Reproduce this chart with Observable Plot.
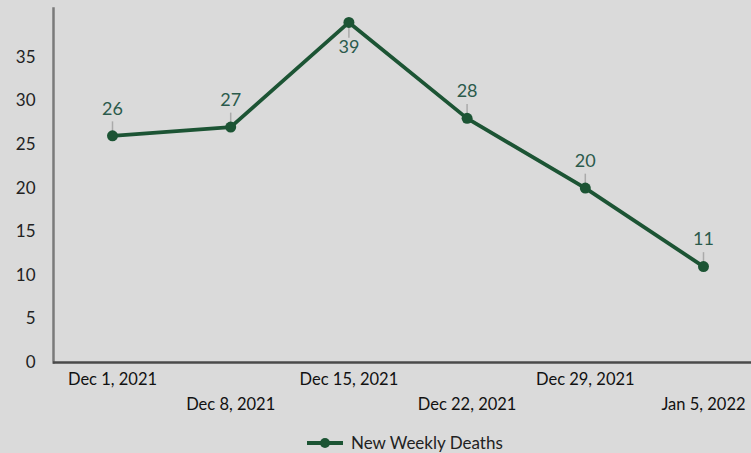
<!DOCTYPE html>
<html>
<head>
<meta charset="utf-8">
<script src="https://cdn.jsdelivr.net/npm/d3@7"></script>
<script src="https://cdn.jsdelivr.net/npm/@observablehq/plot@0.6"></script>
<style>
  html, body { margin: 0; padding: 0; background: #dadada; }
  body { width: 751px; height: 453px; overflow: hidden; font-family: Lato, "Open Sans", sans-serif; }
  #legend { display: flex; align-items: center; height: 33px; padding-top: 6px; padding-left: 306px; font-size: 17px; color: #222; }
  #legend svg { margin-right: 7px; }
</style>
</head>
<body>
<div id="chart"></div>
<div id="legend"></div>
<script>
const weeks = ["Dec 1, 2021", "Dec 8, 2021", "Dec 15, 2021", "Dec 22, 2021", "Dec 29, 2021", "Jan 5, 2022"];
const deaths = [26, 27, 39, 28, 20, 11];
const yTicks = [0, 5, 10, 15, 20, 25, 30, 35];
const seriesName = "New Weekly Deaths";
const lineColor = "#1c5434";

const data = weeks.map((w, i) => ({week: w, value: deaths[i], below: deaths[i] === d3.max(deaths)}));
const above = data.filter(d => !d.below);
const below = data.filter(d => d.below);

const chart = Plot.plot({
  width: 751,
  height: 420,
  marginTop: 8,
  marginBottom: 58,
  marginLeft: 53,
  marginRight: 0,
  style: {background: "#dadada", fontFamily: "Lato, 'Open Sans', sans-serif", fontSize: "16px", color: "#222"},
  x: {type: "point", domain: weeks, range: [112, 703], padding: 0, round: false},
  y: {domain: [0, 40.6], ticks: yTicks},
  marks: [
    Plot.axisY({ticks: yTicks, tickSize: 0, tickPadding: 18, fontSize: 17, label: null, fill: "#222"}),
    Plot.axisX(weeks.filter((d, i) => i % 2 === 0), {tickSize: 0, tickPadding: 11, fontSize: 16.5, label: null, fill: "#111"}),
    Plot.axisX(weeks.filter((d, i) => i % 2 === 1), {tickSize: 0, tickPadding: 36, fontSize: 16.5, label: null, fill: "#111"}),
    Plot.frame({anchor: "left", stroke: "#7a7a7a", strokeWidth: 2.5}),
    Plot.ruleY([0], {stroke: "#4a4a4a", strokeWidth: 2.5}),
    Plot.ruleX(above, {x: "week", y1: d => d.value + 0.4, y2: d => d.value + 1.6, stroke: "#aaa", strokeWidth: 1.5}),
    Plot.ruleX(below, {x: "week", y1: d => d.value - 0.4, y2: d => d.value - 1.8, stroke: "#aaa", strokeWidth: 1.5}),
    Plot.line(data, {x: "week", y: "value", stroke: lineColor, strokeWidth: 3.8}),
    Plot.dot(data, {x: "week", y: "value", fill: lineColor, r: 5.5}),
    Plot.text(above, {x: "week", y: "value", text: d => String(d.value), dy: -27, fontSize: 18, fill: "#2b5a4c"}),
    Plot.text(below, {x: "week", y: "value", text: d => String(d.value), dy: 25, fontSize: 18, fill: "#2b5a4c"})
  ]
});
document.getElementById("chart").appendChild(chart);

const leg = document.getElementById("legend");
leg.innerHTML = `<svg width="38" height="12"><line x1="1" y1="6" x2="37" y2="6" stroke="${lineColor}" stroke-width="3.8"/><circle cx="19" cy="6" r="5" fill="${lineColor}"/></svg><span>${seriesName}</span>`;
</script>
</body>
</html>
